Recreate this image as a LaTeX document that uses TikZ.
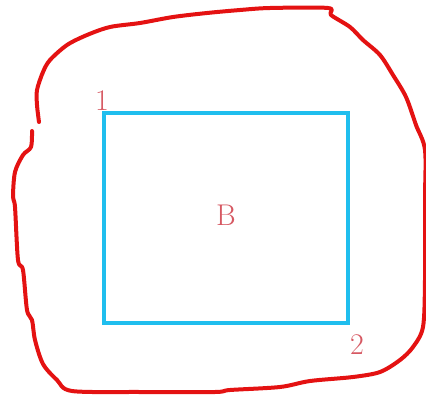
\documentclass[tikz,border=0pt]{standalone}
\usepackage{tikz}
\usepackage{xcolor}
\usetikzlibrary{positioning, calc}
\definecolor{loop-red}{RGB}{228,18,18}
\definecolor{box-cyan}{RGB}{32,190,238}
\definecolor{label-red}{RGB}{214,88,98}

\begin{document}
\begin{tikzpicture}[
  x=1pt, y=-1pt,
  lbl/.style={font=\fontsize{30}{30}\selectfont, text=label-red, inner sep=0pt},
  boxB/.style={draw=box-cyan, line width=4pt, minimum width=244pt, minimum height=210pt, inner sep=0pt},
  outline/.style={draw=loop-red, line width=4pt, line cap=round, line join=round},
]
  \useasboundingbox (0,0) rectangle (426,394);
  % hand drawn loop (open at upper left)
  \draw[outline] plot[smooth, tension=0.5] coordinates {
    (32,131) (31,147) (23,155) (15,172) (13,197) (15,207) (18,260) (23,270)
    (27,310) (32,320) (35,340) (43,364) (57,380) (72,391) (140,392) (215,392)
    (230,390) (280,387) (310,381) (353,377) (380,372) (400,360) (413,347)
    (423,327) (425,280) (425,200) (425,150) (416,125) (406,97) (393,75)
    (380,55) (363,40) (350,27) (331,15) (328,8) (270,8) (240,10) (207,13)
    (173,17) (140,23) (110,27) (87,35) (67,45) (50,60) (43,72) (37,90)
    (37,105) (39,122)};
  % region B
  \node[boxB] (b) at (226,218) {};
  \node[lbl] (bl) at ([yshift=3pt]b.center) {B};
  \node[lbl, anchor=base] (one) at (102,110) {1};
  \node[lbl, anchor=base] (two) at (357,354) {2};
\end{tikzpicture}
\end{document}
